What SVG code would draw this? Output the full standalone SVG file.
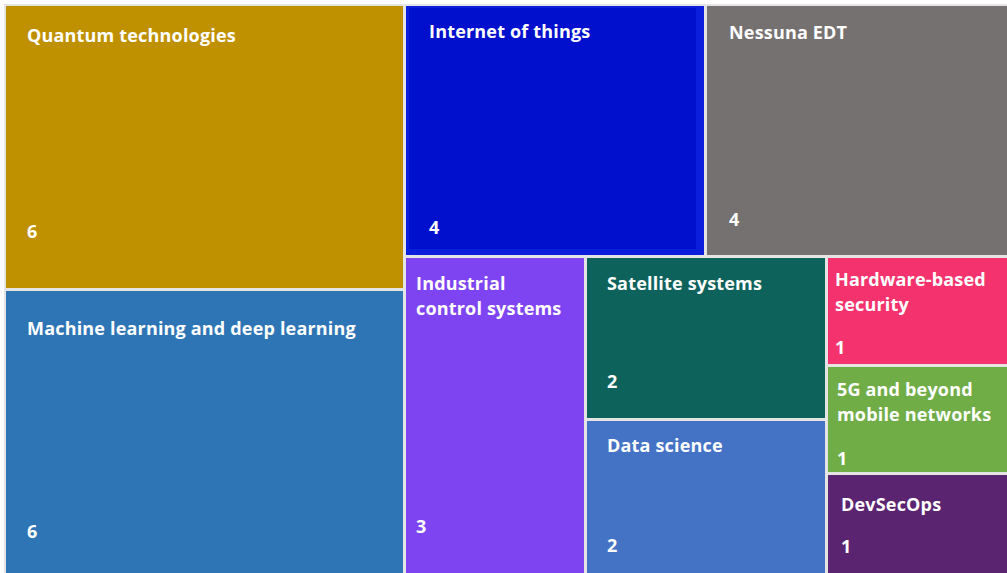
<svg xmlns="http://www.w3.org/2000/svg" width="1007" height="573" viewBox="0 0 1007 573">
<style>
.t{font-family:"Open Sans","Noto Sans","Liberation Sans",sans-serif;font-weight:700;font-size:18px;letter-spacing:0.18px;fill:#ffffff}
.b{stroke:#e4e4e4;stroke-width:2}
</style>
<rect x="0" y="0" width="1007" height="573" fill="#ffffff"/>
<g id="quantum"><rect class="b" x="5" y="5" width="399" height="284" fill="#bf9000"/><text class="t" x="27" y="42">Quantum technologies</text><text class="t" x="27" y="238">6</text></g>
<g id="ml"><rect class="b" x="5" y="290" width="399" height="290" fill="#2e75b6"/><text class="t" x="27" y="335">Machine learning and deep learning</text><text class="t" x="27" y="538">6</text></g>
<g id="iot"><rect class="b" x="405" y="5" width="300" height="251" fill="#0a1edc"/><rect x="409" y="8" width="287" height="241" fill="#0010cc"/><text class="t" x="429" y="38">Internet of things</text><text class="t" x="429" y="234">4</text></g>
<g id="nessuna"><rect class="b" x="706" y="5" width="305" height="251" fill="#767171"/><text class="t" x="729" y="39">Nessuna EDT</text><text class="t" x="729" y="226">4</text></g>
<g id="ics"><rect class="b" x="405" y="257" width="180" height="320" fill="#7f44f2"/><text class="t" x="416" y="290">Industrial</text><text class="t" x="416" y="315">control systems</text><text class="t" x="416" y="533">3</text></g>
<g id="satellite"><rect class="b" x="586" y="257" width="240" height="162" fill="#0e625c"/><text class="t" x="607" y="290">Satellite systems</text><text class="t" x="607" y="388">2</text></g>
<g id="datascience"><rect class="b" x="586" y="420" width="240" height="160" fill="#4472c4"/><text class="t" x="607" y="452">Data science</text><text class="t" x="607" y="552">2</text></g>
<g id="hardware"><rect class="b" x="827" y="257" width="184" height="108" fill="#f4336e"/><text class="t" x="835" y="286">Hardware-based</text><text class="t" x="835" y="311">security</text><text class="t" x="835" y="354">1</text></g>
<g id="fiveg"><rect class="b" x="827" y="366" width="184" height="107" fill="#70ad47"/><text class="t" x="837" y="396">5G and beyond</text><text class="t" x="837" y="421">mobile networks</text><text class="t" x="837" y="465">1</text></g>
<g id="devsecops"><rect class="b" x="827" y="474" width="184" height="106" fill="#5b2471"/><text class="t" x="841" y="511">DevSecOps</text><text class="t" x="841" y="553">1</text></g>
<g id="connectors"></g>
</svg>
